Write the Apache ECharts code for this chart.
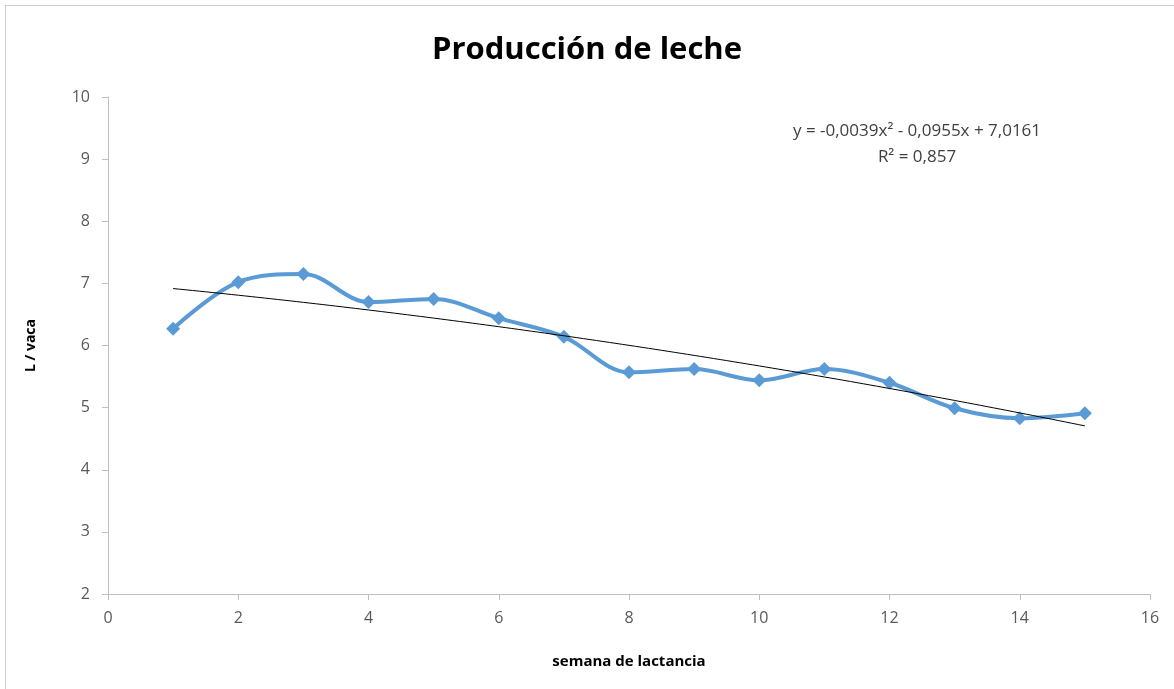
<!DOCTYPE html>
<html><head><meta charset="utf-8">
<script src="https://cdn.jsdelivr.net/npm/echarts@6/dist/echarts.min.js"></script>
<style>
html,body{margin:0;padding:0;background:#fff;overflow:hidden}
#frame{position:absolute;left:5px;top:5px;width:1180px;height:700px;border:1px solid #d0d0d0;box-sizing:border-box}
#c{position:absolute;left:0;top:0;width:1174px;height:689px}
</style></head>
<body>
<div id="frame"></div>
<div id="c"></div>
<script>
const weeks = [1,2,3,4,5,6,7,8,9,10,11,12,13,14,15];
const litres = [6.27,7.02,7.15,6.70,6.75,6.44,6.14,5.57,5.62,5.44,5.62,5.40,4.99,4.83,4.91];
const trendCoef = [-0.0039,-0.0955,7.0161]; // a x^2 + b x + c, as printed on the chart
const xTicks = [0,2,4,6,8,10,12,14,16];
const yTicks = [2,3,4,5,6,7,8,9,10];

const trend = [];
for (let i = 0; i <= 140; i++) {
  const x = 1 + i * 0.1;
  trend.push([x, trendCoef[0]*x*x + trendCoef[1]*x + trendCoef[2]]);
}
const chart = echarts.init(document.getElementById('c'));
const font = '"Open Sans", "Liberation Sans", sans-serif';
chart.setOption({
  animation:false,
  title:{text:'Producción de leche',left:'center',top:30,
    textStyle:{fontFamily:font,fontSize:31,fontWeight:'bold',color:'#000'}},
  grid:{left:108,right:24,top:97,bottom:95},
  xAxis:{type:'value',min:0,max:16,interval:2,
    name:'semana de lactancia',nameLocation:'middle',nameGap:60,
    nameTextStyle:{fontFamily:font,fontSize:15,fontWeight:'bold',color:'#000'},
    axisLine:{lineStyle:{color:'#bfbfbf'}},axisTick:{show:true,length:6,lineStyle:{color:'#bfbfbf'}},
    axisLabel:{fontFamily:font,fontSize:16,color:'#595959',margin:16},
    splitLine:{show:false}},
  yAxis:{type:'value',min:2,max:10,interval:1,
    name:'L / vaca',nameLocation:'middle',nameGap:70,
    nameTextStyle:{fontFamily:font,fontSize:14,fontWeight:'bold',color:'#000'},
    axisLine:{show:true,lineStyle:{color:'#bfbfbf'}},axisTick:{show:true,length:6,lineStyle:{color:'#bfbfbf'}},
    axisLabel:{fontFamily:font,fontSize:16,color:'#595959',margin:18},
    splitLine:{show:false}},
  graphic:[
    {type:'text',x:917,y:131,style:{text:'y = -0,0039x² - 0,0955x + 7,0161',fontFamily:font,fontSize:17,fill:'#404040',align:'center',verticalAlign:'middle'}},
    {type:'text',x:917,y:157,style:{text:'R² = 0,857',fontFamily:font,fontSize:17,fill:'#404040',align:'center',verticalAlign:'middle'}}
  ],
  series:[
    {type:'line',data:weeks.map((w,i)=>[w,litres[i]]),smooth:0.35,
      symbol:'diamond',symbolSize:14,
      lineStyle:{color:'#5b9bd5',width:4},itemStyle:{color:'#5b9bd5'},z:2},
    {type:'line',data:trend,showSymbol:false,smooth:false,
      lineStyle:{color:'#000',width:1},z:3}
  ]
});
</script>
</body></html>
